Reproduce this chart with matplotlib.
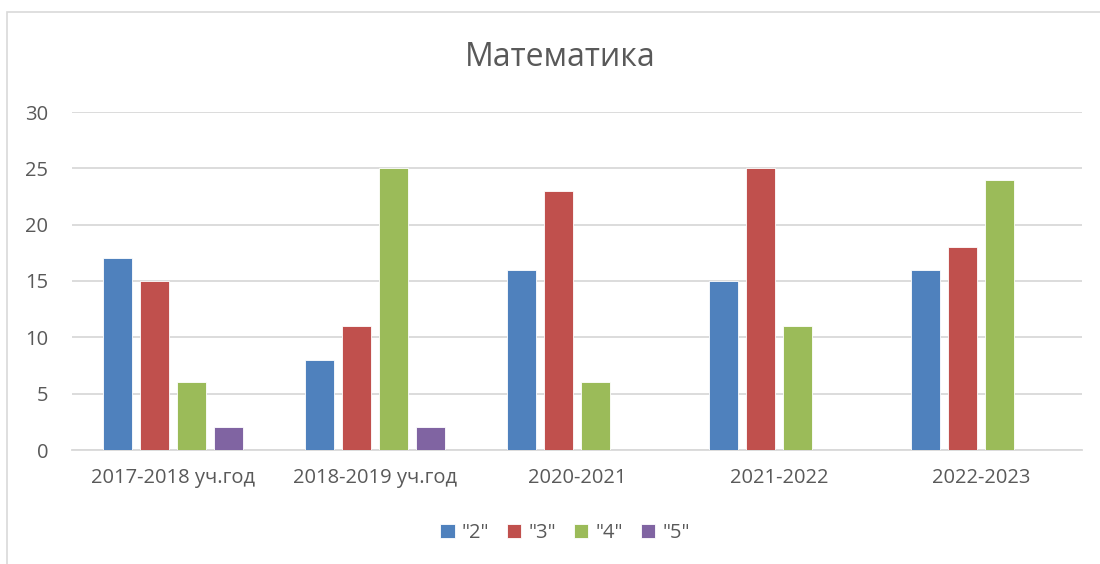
import numpy as np
import matplotlib.pyplot as plt
from matplotlib.patches import Rectangle

categories = ["2017-2018 уч.год", "2018-2019 уч.год", "2020-2021", "2021-2022", "2022-2023"]
series_names = ['"2"', '"3"', '"4"', '"5"']
grade2 = [17, 8, 16, 15, 16]
grade3 = [15, 11, 23, 25, 18]
grade4 = [6, 25, 6, 11, 24]
grade5 = [2, 2, 0, 0, 0]
colors = ["#4F81BD", "#C0504D", "#9BBB59", "#8064A2"]

W, H = 1100, 564
plt.rcParams['font.family'] = ['Open Sans', 'DejaVu Sans']
fig = plt.figure(figsize=(W / 100, H / 100), dpi=100)

# chart frame, cut off at the right and bottom like the screenshot
fig.patches.append(Rectangle((7 / W, -0.1), 1.2, 1 - 12 / H + 0.1, transform=fig.transFigure,
                             fill=False, edgecolor="#D9D9D9", linewidth=1.2))

ax = fig.add_axes([72 / W, 1 - 450 / H, (1082 - 72) / W, (450 - 112) / H])
x = np.arange(len(categories))
width = 0.144
step = 0.183
for i, (vals, name) in enumerate(zip([grade2, grade3, grade4, grade5], series_names)):
    ax.bar(x + (i - 1.5) * step, vals, width, color=colors[i], label=name, zorder=3,
           edgecolor="white", linewidth=0.6)

ax.set_xlim(-0.5, len(categories) - 0.5)
ax.set_ylim(0, 30)
ax.set_yticks(range(0, 31, 5))
ax.set_xticks(x)
ax.set_xticklabels(categories)
ax.grid(axis="y", color="#D9D9D9", linewidth=1.3, zorder=0)
for s in ["top", "right", "left"]:
    ax.spines[s].set_visible(False)
ax.spines["bottom"].set_color("#D9D9D9")
ax.spines["bottom"].set_linewidth(1.3)
ax.tick_params(length=0, labelsize=14.5, labelcolor="#595959")
ax.tick_params(axis="y", pad=17)
ax.tick_params(axis="x", pad=13)

fig.text(560 / W, 1 - 57 / H, "Математика", ha="center", va="center", fontsize=23, color="#595959")

fig.legend(loc="center", bbox_to_anchor=(565 / W, 1 - 533 / H), ncol=4, frameon=False,
           fontsize=14.5, labelcolor="#595959", handlelength=0.7, handleheight=0.7,
           handletextpad=0.35, columnspacing=0.9)

fig.savefig("out.png", dpi=100, facecolor="white")
